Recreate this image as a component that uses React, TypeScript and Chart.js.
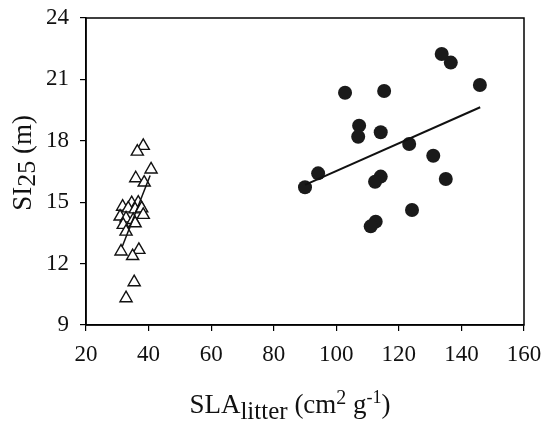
import React, { useEffect, useRef } from "react";
import { Chart, registerables } from "chart.js";

Chart.register(...registerables);

// Filled circles (high SLA group)
const dotX = [133.7, 136.6, 145.9, 102.8, 115.3, 107.3, 107.0, 114.2, 123.3, 131.0, 94.2, 90.0, 114.2, 112.4, 135.0, 124.2, 112.6, 111.0];
const dotY = [22.24, 21.82, 20.73, 20.35, 20.43, 18.74, 18.2, 18.42, 17.84, 17.27, 16.41, 15.73, 16.25, 16.0, 16.13, 14.62, 14.05, 13.82];

// Open triangles (low SLA group)
const triX = [38.3, 36.4, 40.8, 35.9, 38.6, 31.7, 34.6, 36.7, 33.5, 35.7, 37.8, 30.9, 32.8, 35.1, 38.3, 31.9, 35.7, 32.8, 31.2, 36.9, 34.9, 35.4, 32.8];
const triY = [17.75, 17.47, 16.6, 16.17, 15.96, 14.78, 14.95, 14.98, 14.7, 14.65, 14.7, 14.3, 14.21, 14.13, 14.38, 13.89, 13.97, 13.56, 12.59, 12.67, 12.37, 11.09, 10.31];

// Regression lines
const dotFitX = [90, 146];
const dotFitY = [15.85, 19.64];
const triFitX = [31.5, 40.5];
const triFitY = [12.8, 16.3];

const xTicks = [20, 40, 60, 80, 100, 120, 140, 160];
const yTicks = [9, 12, 15, 18, 21, 24];

const FONT = "'Liberation Serif', 'DejaVu Serif', serif";

const zip = (xs: number[], ys: number[]) => xs.map((x, i) => ({ x, y: ys[i] }));

const framePlugin = {
  id: "frame",
  afterDatasetsDraw(chart: any) {
    const { ctx, chartArea } = chart;
    ctx.save();
    ctx.strokeStyle = "#000";
    ctx.lineWidth = 1.5;
    ctx.strokeRect(chartArea.left, chartArea.top, chartArea.right - chartArea.left, chartArea.bottom - chartArea.top);
    ctx.restore();
  },
};

type Part = { t: string; size: number; dy: number };

function drawParts(ctx: CanvasRenderingContext2D, parts: Part[], cx: number, baseY: number) {
  let total = 0;
  for (const p of parts) {
    ctx.font = `${p.size}px ${FONT}`;
    total += ctx.measureText(p.t).width;
  }
  let x = cx - total / 2;
  for (const p of parts) {
    ctx.font = `${p.size}px ${FONT}`;
    ctx.fillText(p.t, x, baseY + p.dy);
    x += ctx.measureText(p.t).width;
  }
}

const titlePlugin = {
  id: "titles",
  afterDraw(chart: any) {
    const { ctx } = chart;
    ctx.save();
    ctx.fillStyle = "#111";
    ctx.textBaseline = "alphabetic";
    ctx.textAlign = "left";
    const xParts: Part[] = [
      { t: "SLA", size: 27, dy: 0 },
      { t: "litter", size: 25, dy: 6 },
      { t: " (cm", size: 27, dy: 0 },
      { t: "2", size: 20, dy: -9 },
      { t: " g", size: 27, dy: 0 },
      { t: "-1", size: 18, dy: -10 },
      { t: ")", size: 27, dy: 0 },
    ];
    drawParts(ctx, xParts, 290, 413);

    ctx.translate(31, 163);
    ctx.rotate(-Math.PI / 2);
    const yParts: Part[] = [
      { t: "SI", size: 27, dy: 0 },
      { t: "25", size: 26, dy: 4 },
      { t: " (m)", size: 27, dy: 0 },
    ];
    drawParts(ctx, yParts, 0, 0);
    ctx.restore();
  },
};

export default function App() {
  const ref = useRef<HTMLCanvasElement | null>(null);

  useEffect(() => {
    if (!ref.current) return;
    const chart = new Chart(ref.current, {
      type: "scatter",
      data: {
        datasets: [
          {
            type: "line",
            data: zip(dotFitX, dotFitY),
            borderColor: "#111",
            borderWidth: 2,
            pointRadius: 0,
            fill: false,
          },
          {
            type: "line",
            data: zip(triFitX, triFitY),
            borderColor: "#111",
            borderWidth: 1.5,
            pointRadius: 0,
            fill: false,
          },
          {
            data: zip(dotX, dotY),
            pointStyle: "circle",
            pointRadius: 7,
            backgroundColor: "#1a1a1a",
            borderColor: "#1a1a1a",
            borderWidth: 0,
          },
          {
            data: zip(triX, triY),
            pointStyle: "triangle",
            pointRadius: 7,
            backgroundColor: "#fff",
            borderColor: "#111",
            borderWidth: 1.4,
          },
        ],
      } as any,
      options: {
        animation: false,
        responsive: true,
        maintainAspectRatio: false,
        layout: { padding: { top: 18, right: 21, left: 0, bottom: 0 } },
        plugins: { legend: { display: false }, tooltip: { enabled: false } },
        scales: {
          x: {
            type: "linear",
            min: 20,
            max: 160,
            afterBuildTicks: (s: any) => {
              s.ticks = xTicks.map((v) => ({ value: v }));
            },
            afterFit: (s: any) => {
              s.height = 98;
              s.paddingLeft = 0;
              s.paddingRight = 0;
            },
            grid: { display: true, drawOnChartArea: false, drawTicks: true, tickLength: 6, color: "#000", lineWidth: 1.2 },
            border: { display: true, color: "#000", width: 1.5 },
            ticks: { color: "#111", font: { family: FONT, size: 23 }, padding: 10, maxRotation: 0 },
          },
          y: {
            type: "linear",
            min: 9,
            max: 24,
            afterBuildTicks: (s: any) => {
              s.ticks = yTicks.map((v) => ({ value: v }));
            },
            afterFit: (s: any) => {
              s.width = 86;
              s.paddingTop = 0;
              s.paddingBottom = 0;
            },
            grid: { display: true, drawOnChartArea: false, drawTicks: true, tickLength: 6, color: "#000", lineWidth: 1.2 },
            border: { display: true, color: "#000", width: 1.5 },
            ticks: { color: "#111", font: { family: FONT, size: 23 }, padding: 11 },
          },
        },
      },
      plugins: [framePlugin, titlePlugin],
    });
    return () => chart.destroy();
  }, []);

  return (
    <div style={{ position: "absolute", left: 0, top: 0, width: 545, height: 423 }}>
      <canvas ref={ref} />
    </div>
  );
}
